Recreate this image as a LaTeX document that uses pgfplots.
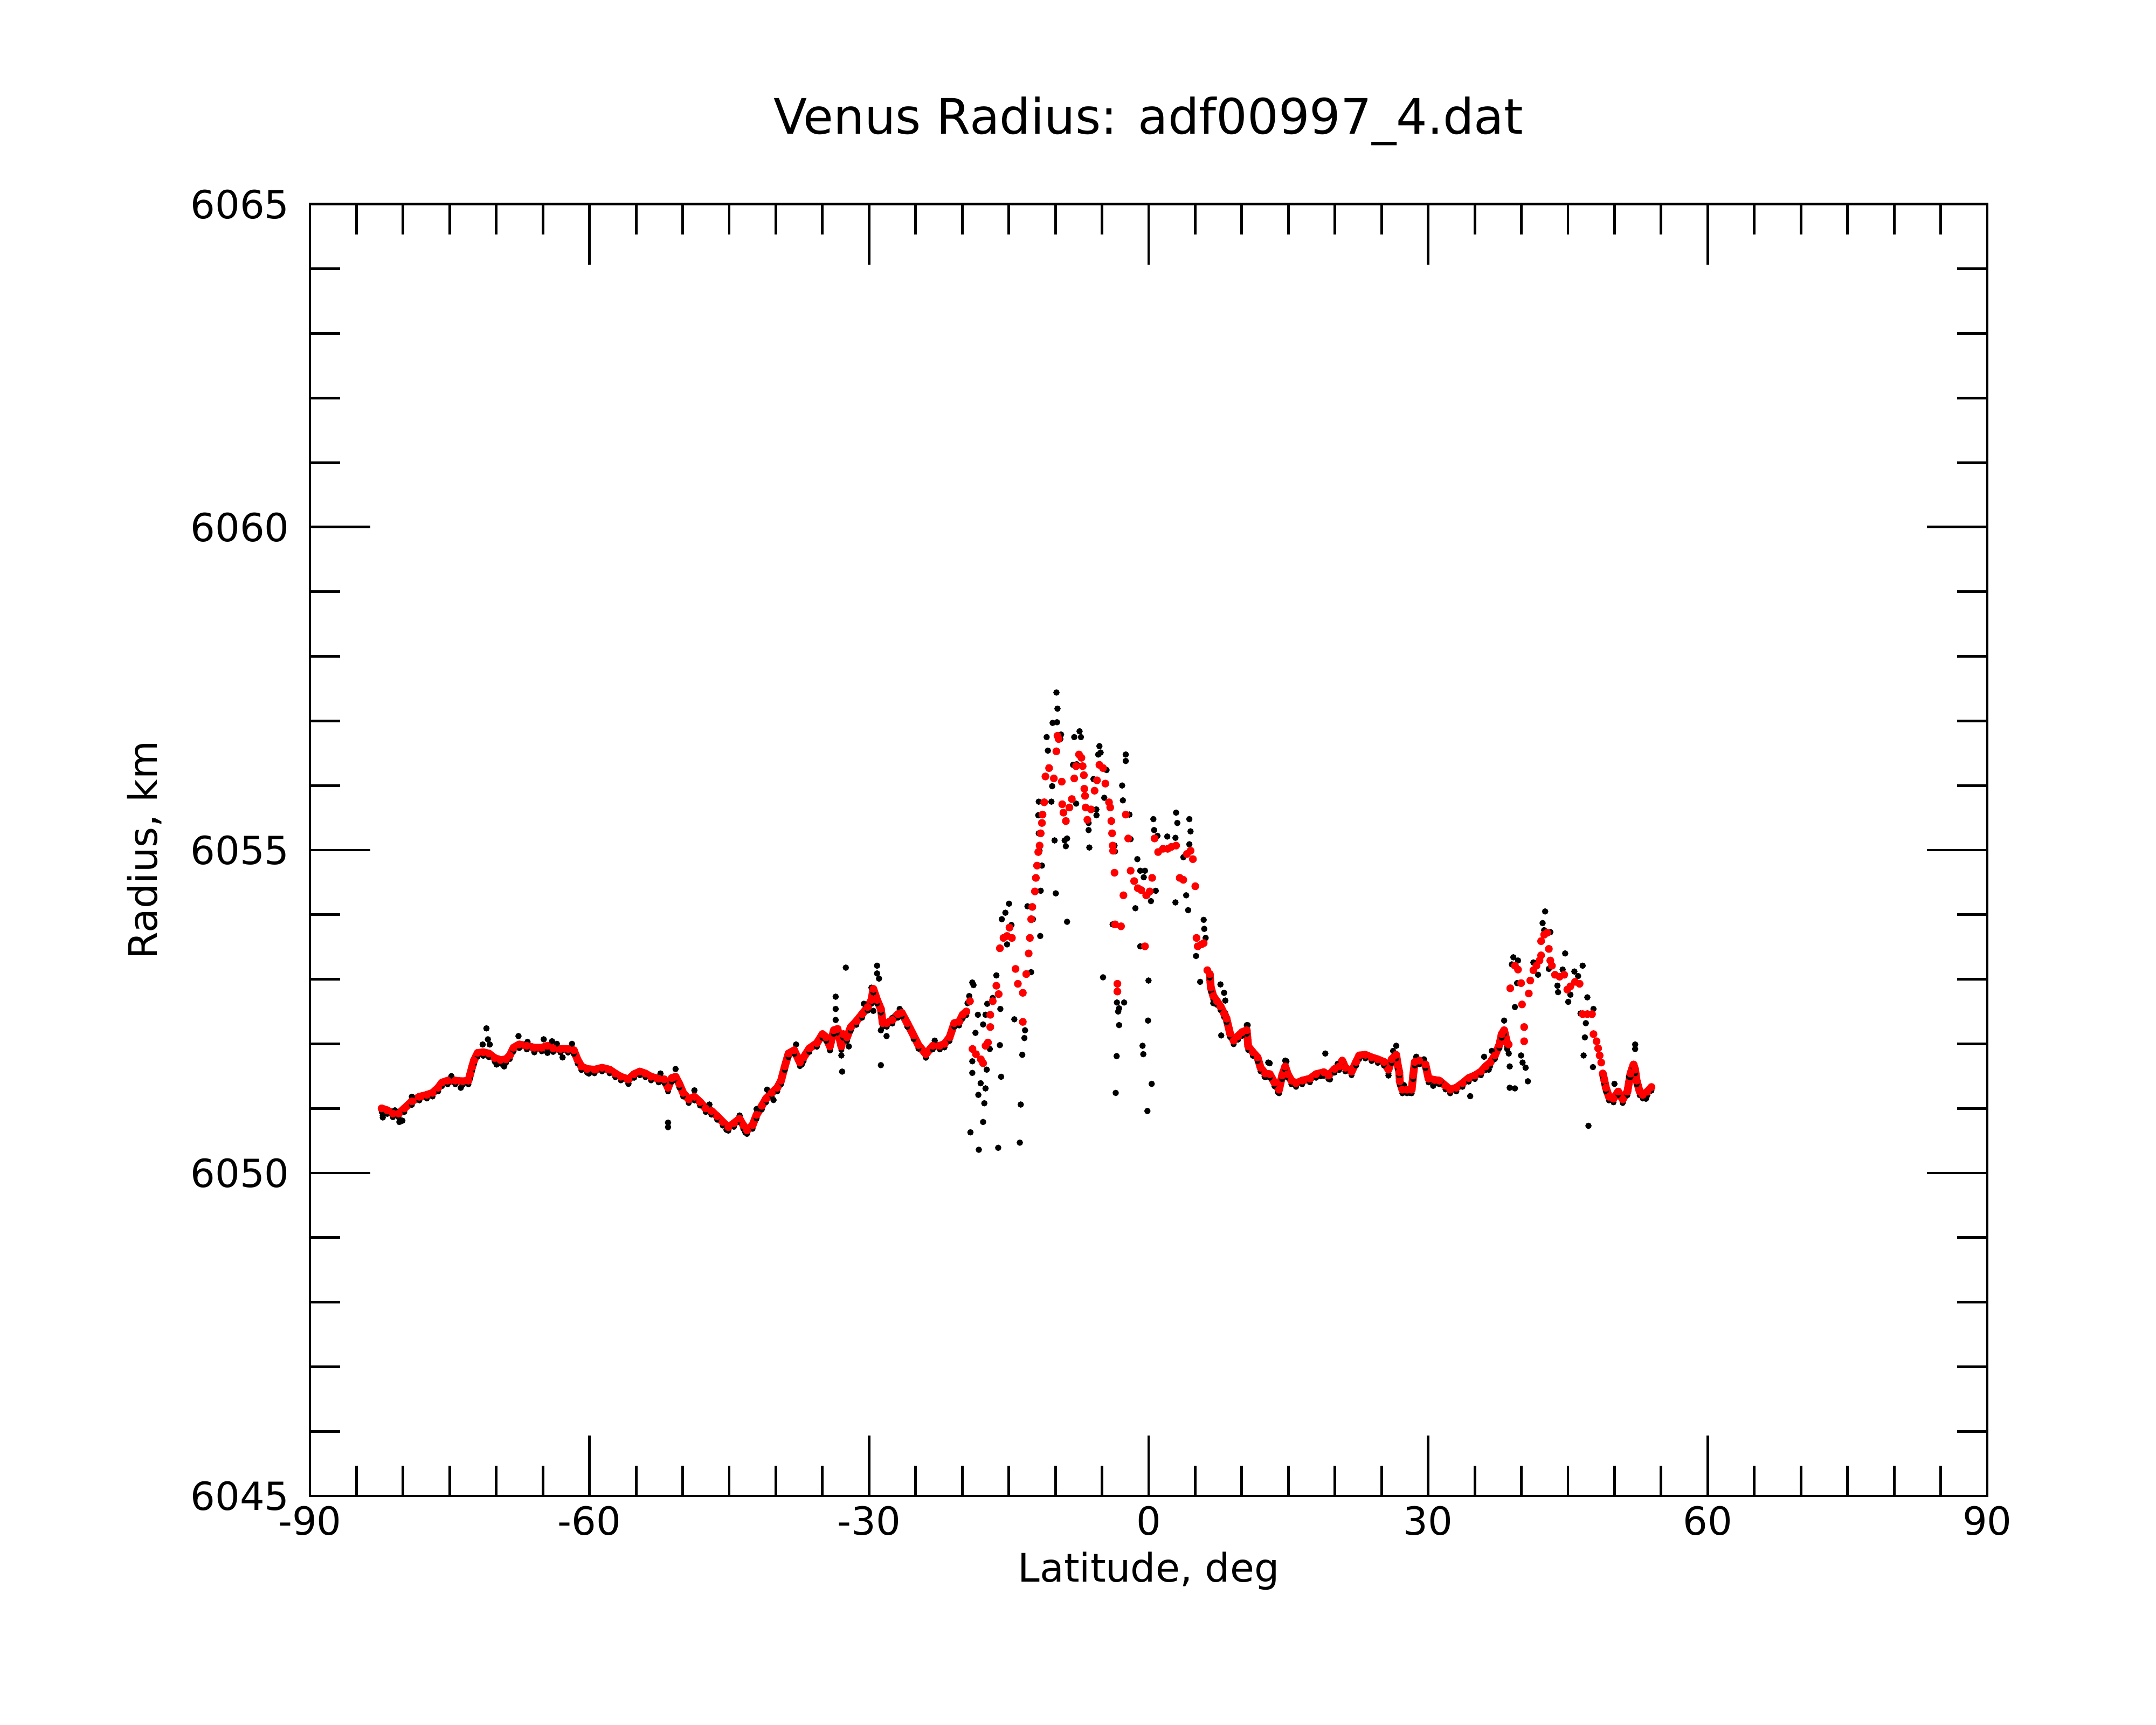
\documentclass[border=0pt]{standalone}
\usepackage{fontspec}
\setmainfont{DejaVu Sans}
\usepackage{pgfplots}
\usepackage{pgfplotstable}
\pgfplotsset{compat=1.18}

\pgfplotstableread{
lat R
-82.3 6051.00
-81.7 6050.97
-81.1 6050.92
-80.48 6050.92
-79.87 6051.00
-79.06 6051.11
-78.26 6051.18
-77.45 6051.21
-76.84 6051.24
-76.24 6051.32
-75.83 6051.40
-75.22 6051.43
-74.4 6051.43
-73.6 6051.42
-72.99 6051.43
-72.8 6051.53
-72.6 6051.64
-72.4 6051.74
-72.0 6051.86
-71.4 6051.87
-70.8 6051.85
-70.17 6051.78
-69.56 6051.75
-68.96 6051.76
-68.55 6051.82
-68.15 6051.94
-67.54 6051.99
-66.73 6051.97
-65.92 6051.94
-65.12 6051.94
-64.51 6051.97
-63.9 6051.93
-63.1 6051.92
-62.3 6051.92
-61.68 6051.90
-61.27 6051.75
-60.87 6051.65
-60.26 6051.61
-59.46 6051.60
-58.65 6051.63
-57.84 6051.60
-57.23 6051.54
-56.63 6051.49
-55.82 6051.45
-55.21 6051.53
-54.6 6051.57
-54.0 6051.54
-53.39 6051.49
-52.58 6051.46
-51.98 6051.45
-51.57 6051.32
-51.17 6051.47
-50.76 6051.49
-50.36 6051.38
-49.95 6051.24
-49.35 6051.14
-48.74 6051.18
-48.14 6051.10
-47.53 6051.00
-46.92 6050.96
-46.3 6050.88
-45.7 6050.79
-45.1 6050.71
-44.5 6050.77
-43.9 6050.84
-43.5 6050.74
-43.1 6050.66
-42.5 6050.74
-42.07 6050.90
-41.5 6051.04
-41.06 6051.15
-40.45 6051.24
-39.85 6051.32
-39.44 6051.43
-39.04 6051.65
-38.64 6051.85
-38.03 6051.90
-37.42 6051.71
-37.02 6051.79
-36.4 6051.93
-35.6 6052.01
-35.0 6052.15
-34.6 6052.10
-34.2 6051.96
-33.78 6052.21
-33.38 6052.23
-32.97 6051.96
-32.77 6052.15
-32.37 6052.10
-31.96 6052.26
-31.36 6052.35
-30.75 6052.46
-30.14 6052.57
-29.74 6052.68
-29.54 6052.85
-29.14 6052.68
-28.73 6052.54
-28.53 6052.32
-28.1 6052.32
-27.5 6052.37
-26.9 6052.46
-26.5 6052.48
-25.9 6052.32
-25.22 6052.13
-24.7 6051.98
-23.9 6051.84
-23.16 6051.97
-22.4 6051.97
-21.9 6052.00
-21.36 6052.10
-20.85 6052.32
-20.33 6052.34
-19.95 6052.45
-19.56 6052.50
-19.17 6052.66
-18.9 6051.92
-18.53 6051.84
-18.0 6051.76
-17.76 6051.70
-17.5 6051.97
-17.24 6052.02
-16.99 6052.26
-16.99 6052.45
-16.73 6052.66
-16.34 6052.90
-16.09 6052.77
-15.96 6053.48
-15.57 6053.64
-15.19 6053.67
-14.93 6053.80
-14.67 6053.64
-14.28 6053.16
-14.03 6052.93
-13.5 6052.79
-13.5 6052.34
-13.13 6053.08
-12.87 6053.40
-12.74 6053.64
-12.6 6053.93
-12.48 6054.12
-12.2 6054.36
-12.1 6054.57
-11.97 6054.76
-11.84 6054.97
-11.7 6055.07
-11.58 6055.26
-11.45 6055.42
-11.38 6055.55
-11.2 6055.74
-11.07 6056.14
-10.68 6056.27
-10.17 6056.11
-9.9 6056.53
-9.78 6056.77
-9.65 6056.72
-9.32 6056.06
-9.27 6055.71
-9.14 6055.58
-8.88 6055.45
-8.5 6055.66
-8.24 6055.79
-7.98 6056.11
-7.78 6056.30
-7.47 6056.48
-7.21 6056.43
-7.08 6056.30
-6.95 6056.16
-6.9 6055.95
-6.82 6055.84
-6.75 6055.66
-6.57 6055.47
-6.18 6055.63
-5.8 6055.92
-5.54 6056.08
-5.28 6056.32
-4.89 6056.27
-4.64 6056.03
-4.25 6055.74
-4.12 6055.66
-4.0 6055.45
-3.92 6055.26
-3.86 6055.07
-3.81 6054.99
-3.66 6054.65
-3.6 6053.85
-3.35 6052.93
-3.35 6052.81
-2.96 6053.82
-2.7 6054.30
-2.45 6055.55
-2.19 6055.18
-1.93 6054.68
-1.55 6054.52
-1.16 6054.41
-0.78 6054.38
-0.39 6053.51
-0.26 6054.30
0.12 6054.36
0.38 6054.57
0.64 6055.18
1.02 6054.97
1.54 6055.02
2.05 6055.02
2.44 6055.05
2.95 6055.07
3.34 6054.57
3.72 6054.54
4.11 6054.94
4.5 6054.99
4.75 6054.86
5.01 6054.44
5.14 6053.64
5.27 6053.51
5.66 6053.54
5.91 6053.56
6.3 6053.14
6.56 6053.08
6.68 6052.87
6.94 6052.74
7.33 6052.66
7.71 6052.58
8.1 6052.47
8.36 6052.39
8.74 6052.16
9.13 6052.05
9.6 6052.12
10.03 6052.18
10.53 6052.21
10.69 6051.96
11.19 6051.87
11.69 6051.79
12.02 6051.63
12.51 6051.54
13.0 6051.53
13.5 6051.40
14.0 6051.29
14.33 6051.51
14.66 6051.65
14.93 6051.53
15.32 6051.43
15.82 6051.39
16.48 6051.43
17.31 6051.46
17.97 6051.53
18.8 6051.56
19.3 6051.51
19.96 6051.61
20.45 6051.65
20.78 6051.74
21.11 6051.63
21.78 6051.57
22.27 6051.72
22.6 6051.82
23.26 6051.83
23.93 6051.79
24.59 6051.76
25.25 6051.72
25.74 6051.60
26.08 6051.76
26.57 6051.83
26.74 6051.67
26.9 6051.56
26.95 6051.42
27.23 6051.29
27.73 6051.29
28.23 6051.29
28.39 6051.51
28.56 6051.72
29.05 6051.74
29.71 6051.68
30.04 6051.46
30.7 6051.44
31.2 6051.43
31.86 6051.35
32.36 6051.29
33.02 6051.32
33.68 6051.39
34.35 6051.47
35.01 6051.51
35.67 6051.57
36.17 6051.65
36.66 6051.71
37.16 6051.82
37.65 6051.99
37.89 6052.15
38.15 6052.21
38.48 6052.01
38.64 6051.99
38.81 6052.86
39.31 6053.21
39.64 6053.15
39.97 6052.94
40.07 6052.61
40.3 6052.26
40.3 6052.04
40.8 6052.78
40.96 6052.98
41.29 6053.14
41.62 6053.21
41.95 6053.29
42.12 6053.37
42.12 6053.59
42.45 6053.69
42.78 6053.72
42.95 6053.47
43.11 6053.29
43.28 6053.21
43.61 6053.07
44.1 6053.04
44.6 6053.07
44.93 6052.84
45.26 6052.89
45.76 6052.96
46.25 6052.93
46.58 6052.46
47.08 6052.46
47.58 6052.46
47.74 6052.15
48.07 6052.04
48.24 6051.93
48.4 6051.82
48.57 6051.71
48.74 6051.54
48.9 6051.44
49.07 6051.32
49.4 6051.18
49.89 6051.15
50.39 6051.26
50.88 6051.14
51.38 6051.26
51.71 6051.54
52.04 6051.68
52.21 6051.60
52.37 6051.43
52.7 6051.26
53.03 6051.21
53.53 6051.26
53.96 6051.33
}\redtab

\pgfplotstableread{
lat R
-82.18 6050.89
-82.18 6050.86
-80.88 6050.97
-80.08 6050.81
-80.4 6050.79
-79.06 6051.18
-74.82 6051.50
-73.81 6051.32
-71.06 6052.24
-70.9 6052.07
-71.46 6051.99
-70.7 6051.99
-69.97 6051.68
-69.16 6051.65
-67.62 6052.12
-66.65 6052.03
-65.92 6051.87
-64.91 6052.07
-64.02 6052.04
-63.5 6052.00
-64.51 6051.86
-62.89 6051.79
-61.88 6052.00
-60.06 6051.54
-55.82 6051.38
-52.38 6051.54
-51.57 6050.71
-51.57 6050.78
-50.76 6051.61
-48.74 6051.28
-47.13 6051.06
-45.3 6050.67
-43.89 6050.89
-43.28 6050.63
-42.07 6050.99
-40.94 6051.29
-40.25 6051.13
-37.83 6051.99
-37.22 6051.68
-34.19 6051.90
-33.58 6052.73
-33.58 6052.54
-33.58 6052.37
-32.49 6053.18
-32.97 6051.82
-32.89 6051.57
-32.17 6051.96
-30.55 6052.62
-29.74 6052.87
-29.54 6052.51
-29.14 6053.21
-29.14 6053.09
-28.93 6053.01
-28.73 6052.21
-28.73 6051.67
-28.12 6052.12
-27.52 6052.40
-26.71 6052.54
-23.88 6051.81
-22.95 6052.05
-18.92 6052.95
-18.79 6052.91
-19.25 6052.74
-19.43 6052.63
-18.32 6052.45
-18.58 6052.17
-17.76 6052.30
-17.5 6052.45
-17.32 6052.62
-16.73 6052.71
-16.34 6053.06
-15.96 6051.98
-15.91 6052.54
-18.92 6051.73
-18.92 6051.55
-17.37 6051.60
-17.04 6051.92
-18.02 6051.39
-17.5 6051.31
-18.27 6051.21
-17.63 6051.08
-17.76 6050.79
-19.12 6050.63
-18.22 6050.36
-16.14 6050.39
-15.83 6051.49
-14.41 6052.38
-13.26 6052.21
-13.33 6052.09
-13.56 6051.83
-13.72 6051.06
-13.82 6050.47
-15.75 6053.93
-15.37 6054.03
-14.98 6054.17
-14.72 6053.84
-15.19 6053.54
-13.0 6054.13
-12.41 6053.93
-11.63 6053.67
-12.61 6053.11
-11.58 6054.37
-11.45 6054.76
-11.71 6054.99
-11.79 6055.26
-11.84 6055.54
-11.79 6055.75
-11.12 6055.74
-10.43 6055.75
-10.35 6055.99
-10.81 6056.54
-10.94 6056.75
-10.3 6056.97
-9.83 6056.98
-9.78 6057.19
-9.89 6057.44
-9.4 6056.79
-9.47 6056.72
-10.09 6055.15
-9.96 6054.33
-8.75 6053.89
-9.01 6055.15
-8.88 6055.06
-8.75 6055.18
-7.98 6056.75
-7.41 6056.84
-7.26 6056.75
-8.11 6056.32
-7.72 6056.33
-7.78 6055.72
-6.44 6055.42
-6.44 6055.31
-6.36 6055.04
-5.92 6056.10
-5.28 6056.61
-5.41 6056.48
-5.15 6056.51
-4.76 6055.81
-4.51 6056.24
-5.59 6055.54
-5.61 6055.63
-2.84 6056.00
-2.76 6055.77
-2.45 6056.48
-2.45 6056.38
-2.06 6055.55
-1.93 6055.17
-4.89 6053.03
-3.86 6053.85
-3.66 6055.07
-3.61 6054.98
-3.4 6052.64
-3.17 6052.55
-3.27 6052.50
-2.63 6052.64
-3.17 6052.29
-3.43 6051.81
-3.53 6051.24
-1.21 6054.86
-1.42 6054.10
-0.9 6053.51
-0.65 6051.97
-0.57 6051.84
-0.13 6050.96
0.33 6051.38
-0.06 6052.36
-0.01 6052.98
0.51 6055.48
0.59 6055.31
0.95 6055.22
2.0 6055.21
2.88 6055.19
2.95 6055.58
3.08 6055.42
4.37 6055.48
4.5 6055.29
4.37 6055.09
3.73 6054.89
2.88 6054.19
4.03 6054.30
4.24 6054.07
0.77 6054.37
-0.39 6054.68
-0.13 6054.30
-0.9 6054.68
-0.52 6054.58
0.25 6054.21
5.91 6053.92
5.97 6053.78
6.12 6053.64
5.09 6053.36
5.53 6052.96
6.63 6053.08
7.71 6052.92
8.1 6052.79
8.23 6052.67
7.79 6052.13
10.54 6052.29
6.94 6052.63
8.23 6052.47
9.13 6052.02
12.99 6051.70
12.6 6051.49
13.89 6051.25
14.79 6051.73
10.63 6052.29
12.84 6051.71
12.45 6051.49
14.66 6051.74
14.0 6051.25
18.96 6051.85
18.47 6051.50
19.46 6051.45
20.29 6051.69
25.74 6051.51
26.57 6051.97
26.24 6051.89
27.4 6051.36
28.06 6051.24
28.72 6051.80
29.55 6051.76
30.54 6051.35
31.37 6051.40
32.36 6051.24
34.51 6051.19
36.0 6051.80
36.83 6051.89
36.5 6051.60
38.15 6052.36
38.48 6051.92
38.65 6051.85
38.75 6051.65
38.75 6051.32
39.31 6051.31
39.14 6053.34
38.98 6053.23
39.64 6053.29
39.31 6052.57
39.54 6052.94
39.97 6051.82
40.13 6051.71
40.46 6051.63
40.7 6051.42
41.29 6053.26
41.79 6053.07
42.28 6053.87
42.55 6054.05
42.45 6053.76
43.11 6053.73
42.95 6053.16
43.87 6052.90
43.94 6052.80
44.43 6053.15
44.7 6053.40
45.03 6052.65
45.26 6052.76
45.69 6053.12
46.09 6053.05
46.58 6053.21
47.08 6052.72
46.35 6052.47
46.92 6052.32
46.82 6052.10
46.68 6051.82
47.68 6051.64
47.74 6052.54
47.2 6050.73
49.99 6051.38
50.88 6051.10
52.21 6051.99
52.21 6051.92
53.37 6051.15
51.55 6051.49
}\blacktab

\begin{document}
\begin{tikzpicture}
\useasboundingbox (-1.4375in,-1.0625in) rectangle (8.5625in,6.9375in);
\begin{axis}[
  at={(0,0)}, anchor=south west,
  scale only axis,
  width=7.78in, height=5.99in,
  xmin=-90, xmax=90, ymin=6045, ymax=6065,
  xtick={-90,-60,-30,0,30,60,90},
  xticklabels={-90,-60,-30,0,30,60,90},
  minor x tick num=5,
  ytick={6045,6050,6055,6060,6065},
  yticklabels={6045,6050,6055,6060,6065},
  minor y tick num=4,
  tick align=inside,
  xtick pos=both, ytick pos=both,
  major tick length=0.28in,
  minor tick length=0.14in,
  every tick/.style={black, line width=0.9pt},
  axis line style={line width=0.9pt},
  tick label style={font=\fontsize{13}{15.6}\selectfont},
  yticklabel style={xshift=-3.4pt},
  title={Venus Radius: adf00997\_4.dat},
  title style={at={(axis description cs:0.5,1.0405)}, anchor=base, yshift=0pt, font=\fontsize{16.4}{19.7}\selectfont},
  xlabel={Latitude, deg},
  xlabel style={at={(axis description cs:0.5,-0.06636)}, anchor=base, font=\fontsize{13.2}{15.8}\selectfont},
  ylabel={Radius, km},
  ylabel style={at={(axis description cs:-0.09094,0.5)}, anchor=base, font=\fontsize{13.2}{15.8}\selectfont},
  unbounded coords=jump,
]
% raw radius samples (black)
\addplot[black, only marks, mark=*, mark size=0.85pt, mark options={fill=black}] table[x=lat, y=R] {\blacktab};
% raw samples lying along the smooth track, peeking out beneath the red
\addplot[black, only marks, mark=*, mark size=0.8pt, yshift=-1.2pt, restrict x to domain=-83:-19.4, mark options={fill=black}] table[x=lat, y=R] {\redtab};
\addplot[black, only marks, mark=*, mark size=0.8pt, yshift=-1.2pt, restrict x to domain=6.5:38.6, mark options={fill=black}] table[x=lat, y=R] {\redtab};
\addplot[black, only marks, mark=*, mark size=0.8pt, yshift=-1.2pt, restrict x to domain=48.6:54.5, mark options={fill=black}] table[x=lat, y=R] {\redtab};
% filtered radius (red)
\addplot[red, line width=2.6pt, line join=round, line cap=round, restrict x to domain=-83:-19.4] table[x=lat, y=R] {\redtab};
\addplot[red, line width=2.6pt, line join=round, line cap=round, restrict x to domain=6.5:38.6] table[x=lat, y=R] {\redtab};
\addplot[red, line width=2.6pt, line join=round, line cap=round, restrict x to domain=48.6:54.5] table[x=lat, y=R] {\redtab};
\addplot[red, only marks, mark=*, mark size=1.1pt, mark options={fill=red}] table[x=lat, y=R] {\redtab};
\end{axis}
\end{tikzpicture}
\end{document}
